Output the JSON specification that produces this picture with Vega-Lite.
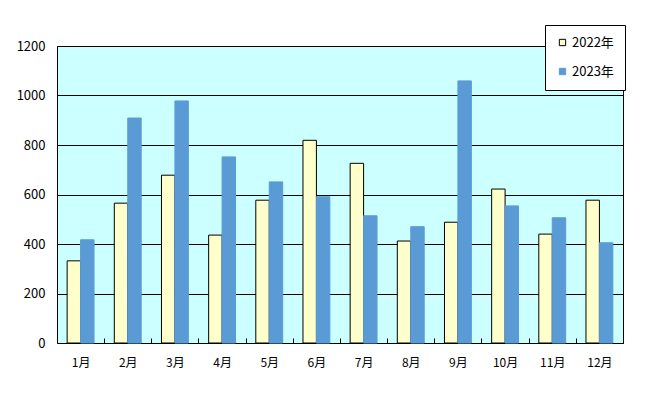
{
  "$schema": "https://vega.github.io/schema/vega-lite/v6.json",
  "width": 566,
  "height": 297,
  "autosize": {"type": "none"},
  "padding": {"left": 57, "top": 46, "right": 31, "bottom": 53},
  "background": "white",
  "config": {
    "font": "Noto Sans CJK JP",
    "view": {"fill": "#CCFFFF", "stroke": "black", "strokeWidth": 1},
    "axis": {"labelFont": "Noto Sans CJK JP", "labelFontSize": 12, "labelColor": "black"}
  },
  "data": {
    "values": [
      {"month": "1月", "year": "2022年", "value": 332},
      {"month": "1月", "year": "2023年", "value": 417},
      {"month": "2月", "year": "2022年", "value": 565},
      {"month": "2月", "year": "2023年", "value": 909},
      {"month": "3月", "year": "2022年", "value": 678},
      {"month": "3月", "year": "2023年", "value": 978},
      {"month": "4月", "year": "2022年", "value": 436},
      {"month": "4月", "year": "2023年", "value": 752},
      {"month": "5月", "year": "2022年", "value": 577},
      {"month": "5月", "year": "2023年", "value": 651},
      {"month": "6月", "year": "2022年", "value": 819},
      {"month": "6月", "year": "2023年", "value": 591},
      {"month": "7月", "year": "2022年", "value": 726},
      {"month": "7月", "year": "2023年", "value": 514},
      {"month": "8月", "year": "2022年", "value": 412},
      {"month": "8月", "year": "2023年", "value": 470},
      {"month": "9月", "year": "2022年", "value": 488},
      {"month": "9月", "year": "2023年", "value": 1059},
      {"month": "10月", "year": "2022年", "value": 622},
      {"month": "10月", "year": "2023年", "value": 554},
      {"month": "11月", "year": "2022年", "value": 440},
      {"month": "11月", "year": "2023年", "value": 506},
      {"month": "12月", "year": "2022年", "value": 577},
      {"month": "12月", "year": "2023年", "value": 405}
    ]
  },
  "mark": {"type": "bar", "strokeWidth": 1},
  "encoding": {
    "x": {
      "field": "month", "type": "nominal", "sort": null,
      "scale": {"paddingInner": 0.43, "paddingOuter": 0.215},
      "axis": {"title": null, "labelAngle": 0, "ticks": true, "tickOffset": 23.58, "labelOffset": -23.58, "tickSize": -5, "tickColor": "black", "tickWidth": 1, "tickOpacity": 1, "domain": false, "labelPadding": 19, "grid": false, "zindex": 1}
    },
    "xOffset": {"field": "year", "type": "nominal"},
    "y": {
      "field": "value", "type": "quantitative",
      "scale": {"domain": [0, 1200]},
      "axis": {"title": null, "values": [0, 200, 400, 600, 800, 1000, 1200], "format": "d", "labelFontSize": 13, "ticks": false, "domain": false, "grid": true, "gridColor": "black", "gridOpacity": 1, "labelPadding": 12}
    },
    "fill": {
      "field": "year", "type": "nominal",
      "scale": {"range": ["#FFFFCC", "#5B9BD5"]},
      "legend": {"title": null, "orient": "none", "legendX": 488, "legendY": -21, "strokeColor": "black", "fillColor": "white", "padding": 11, "symbolType": "square", "symbolSize": 40, "rowPadding": 15, "labelFontSize": 13, "labelFont": "Noto Sans CJK JP", "labelColor": "black", "labelOffset": 3, "symbolStrokeWidth": 1}
    },
    "stroke": {
      "field": "year", "type": "nominal",
      "scale": {"range": ["black", "#5B9BD5"]},
      "legend": {"title": null, "orient": "none", "legendX": 488, "legendY": -21, "strokeColor": "black", "fillColor": "white", "padding": 11, "symbolType": "square", "symbolSize": 40, "rowPadding": 15, "labelFontSize": 13, "labelFont": "Noto Sans CJK JP", "labelColor": "black", "labelOffset": 3, "symbolStrokeWidth": 1}
    }
  }
}
